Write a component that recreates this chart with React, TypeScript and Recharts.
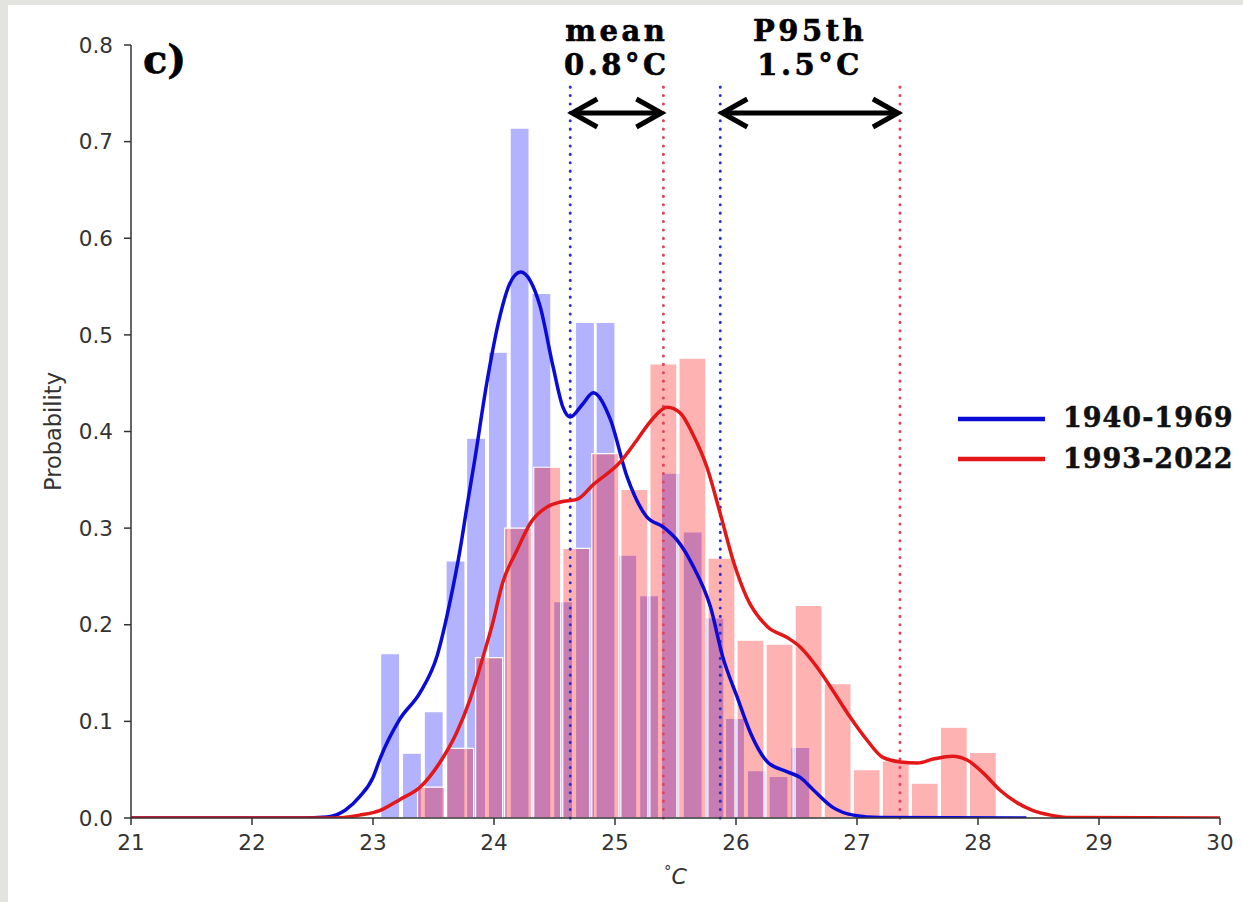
import React from 'react';
import { ComposedChart, Bar, Line, XAxis, YAxis, ReferenceLine, Legend } from 'recharts';

// Histogram bins (bin centres in °C, probability density)
const blueBinCenters = [23.14, 23.32, 23.5, 23.68, 23.85, 24.03, 24.21, 24.39, 24.57, 24.75, 24.92, 25.1, 25.28, 25.46, 25.64, 25.82, 25.99, 26.17, 26.35, 26.53];
const blueBinValues = [0.17, 0.067, 0.11, 0.266, 0.393, 0.482, 0.714, 0.543, 0.224, 0.513, 0.513, 0.272, 0.23, 0.357, 0.296, 0.207, 0.103, 0.049, 0.043, 0.073];
const redBinCenters = [23.48, 23.72, 23.96, 24.2, 24.44, 24.68, 24.92, 25.16, 25.4, 25.64, 25.88, 26.12, 26.36, 26.6, 26.84, 27.08, 27.32, 27.56, 27.8, 28.04];
const redBinValues = [0.032, 0.072, 0.166, 0.3, 0.363, 0.279, 0.377, 0.34, 0.47, 0.476, 0.269, 0.184, 0.18, 0.22, 0.139, 0.05, 0.059, 0.036, 0.094, 0.068];

// Kernel density curves
const blueKdeX = [21, 22.4, 22.62, 22.77, 22.89, 23.0, 23.06, 23.22, 23.39, 23.53, 23.64, 23.72, 23.78, 23.84, 23.94, 24.05, 24.13, 24.22, 24.3, 24.38, 24.49, 24.57, 24.63, 24.73, 24.82, 24.96, 25.1, 25.26, 25.4, 25.51, 25.64, 25.79, 25.89, 26.01, 26.12, 26.26, 26.42, 26.53, 26.64, 26.8, 26.97, 27.19, 28.4];
const blueKdeY = [0, 0, 0.001, 0.008, 0.022, 0.042, 0.062, 0.102, 0.13, 0.168, 0.226, 0.278, 0.325, 0.37, 0.45, 0.52, 0.553, 0.565, 0.556, 0.53, 0.466, 0.425, 0.415, 0.428, 0.44, 0.413, 0.353, 0.312, 0.301, 0.288, 0.262, 0.218, 0.167, 0.125, 0.088, 0.058, 0.048, 0.042, 0.029, 0.011, 0.003, 0.0005, 0];
const redKdeX = [21, 22.64, 22.89, 23.06, 23.22, 23.39, 23.55, 23.69, 23.8, 23.91, 23.99, 24.07, 24.19, 24.3, 24.44, 24.55, 24.69, 24.82, 25.04, 25.18, 25.31, 25.43, 25.54, 25.64, 25.76, 25.87, 25.98, 26.09, 26.26, 26.42, 26.53, 26.67, 26.8, 26.94, 27.08, 27.21, 27.36, 27.5, 27.63, 27.79, 27.91, 28.04, 28.18, 28.32, 28.45, 28.6, 28.76, 30];
const redKdeY = [0, 0, 0.003, 0.008, 0.019, 0.032, 0.057, 0.088, 0.122, 0.167, 0.202, 0.243, 0.277, 0.305, 0.322, 0.327, 0.33, 0.345, 0.368, 0.391, 0.413, 0.425, 0.419, 0.398, 0.363, 0.315, 0.265, 0.228, 0.198, 0.187, 0.177, 0.156, 0.132, 0.105, 0.081, 0.063, 0.058, 0.057, 0.061, 0.064, 0.06, 0.047, 0.029, 0.016, 0.008, 0.003, 0.0005, 0];

// Series names, mean / 95th percentile markers and annotations
const seriesNames = ['1940-1969', '1993-2022'];
const meanValues = [24.63, 25.4];
const p95Values = [25.87, 27.355];
const annotationTitles = ['mean', 'P95th'];
const annotationValues = ['0.8°C', '1.5°C'];
const markerTop = 0.761;
const arrowLevel = 0.7296;

const xTicks = [21, 22, 23, 24, 25, 26, 27, 28, 29, 30];
const yTicks = [0, 0.1, 0.2, 0.3, 0.4, 0.5, 0.6, 0.7, 0.8];
const xDomain: [number, number] = [21, 30];
const yDomain: [number, number] = [0, 0.8];

const blueBars = blueBinCenters.map((x, i) => ({ x, blue: blueBinValues[i] }));
const redBars = redBinCenters.map((x, i) => ({ x, red: redBinValues[i] }));
const blueKde = blueKdeX.map((x, i) => ({ x, kde: blueKdeY[i] }));
const redKde = redKdeX.map((x, i) => ({ x, kde: redKdeY[i] }));

const W = 1243;
const H = 902;
const PLOT = { top: 45, right: 23, bottom: 84, left: 131 };
const BLUE = '#0b0bd6';
const RED = '#e31717';
const SLAB = '"DejaVu Serif", serif';
const SANS = '"DejaVu Sans", sans-serif';

const makeArrow = (title: string, value: string) => (props: any) => {
  const { x1, y1, x2 } = props;
  const L = 27;
  const AH = 14;
  const cx = (x1 + x2) / 2;
  return (
    <g>
      <line x1={x1 + 2} y1={y1} x2={x2 - 2} y2={y1} stroke="#000" strokeWidth={5} />
      <polyline points={`${x1 + L},${y1 - AH} ${x1 + 2},${y1} ${x1 + L},${y1 + AH}`} fill="none" stroke="#000" strokeWidth={5} strokeLinejoin="miter" />
      <polyline points={`${x2 - L},${y1 - AH} ${x2 - 2},${y1} ${x2 - L},${y1 + AH}`} fill="none" stroke="#000" strokeWidth={5} strokeLinejoin="miter" />
      <text x={cx} y={y1 - 72} textAnchor="middle" fontFamily={SLAB} fontWeight="bold" fontSize={29} letterSpacing={3.5} stroke="#000" strokeWidth={0.6} fill="#000">{title}</text>
      <text x={cx} y={y1 - 38} textAnchor="middle" fontFamily={SLAB} fontWeight="bold" fontSize={29} letterSpacing={3.5} stroke="#000" strokeWidth={0.6} fill="#000">{value}</text>
    </g>
  );
};

const renderLegend = (props: any) => {
  const items = (props.payload || []).filter((p: any) => p.type === 'line');
  return (
    <svg width={290} height={84} style={{ overflow: 'visible', display: 'block' }}>
      {items.map((it: any, i: number) => (
        <g key={i}>
          <line x1={8} x2={95} y1={24 + i * 40} y2={24 + i * 40} stroke={it.color} strokeWidth={4.5} />
          <text x={113} y={32 + i * 41} fontFamily={SLAB} fontWeight="bold" fontSize={27} letterSpacing={1} stroke="#111" strokeWidth={0.5} fill="#111">{it.value}</text>
        </g>
      ))}
    </svg>
  );
};

const xLabel = (props: any) => {
  const { viewBox } = props;
  const cx = viewBox.x + viewBox.width / 2;
  return (
    <text x={cx} y={viewBox.y + 66} textAnchor="middle" fontFamily={SANS} fontSize={22} fill="#333">
      <tspan fontSize={15} dy={-7}>°</tspan>
      <tspan fontStyle="italic" dy={7}>C</tspan>
    </text>
  );
};

export default function App() {
  return (
    <div style={{ position: 'absolute', left: 0, top: 0, width: W, height: H, overflow: 'hidden', background: '#e3e3df' }}>
      <div style={{ position: 'absolute', left: 8, top: 5, width: 1235, height: 897, background: '#fff' }} />
      {/* Layer 1: 1940-1969 histogram */}
      <div style={{ position: 'absolute', left: 0, top: 0 }}>
        <ComposedChart width={W} height={H} data={blueBars} margin={PLOT}>
          <XAxis dataKey="x" type="number" domain={xDomain} allowDataOverflow hide />
          <YAxis domain={yDomain} allowDataOverflow hide />
          <Bar dataKey="blue" barSize={19} fill="#0000ff" fillOpacity={0.3} stroke="#fff" strokeWidth={1.2} isAnimationActive={false} />
        </ComposedChart>
      </div>
      {/* Layer 2: 1993-2022 histogram, KDE curves, axes and annotations */}
      <div style={{ position: 'absolute', left: 0, top: 0 }}>
        <ComposedChart width={W} height={H} data={redBars} margin={{ top: 45, right: 23, bottom: 24, left: 61 }}>
          <XAxis
            xAxisId="main"
            dataKey="x"
            type="number"
            domain={xDomain}
            ticks={xTicks}
            allowDataOverflow
            height={60}
            tickSize={7}
            tickMargin={10}
            stroke="#333"
            strokeWidth={1.5}
            tick={{ fontSize: 21.5, fill: '#333', fontFamily: SANS }}
            label={xLabel}
          />
          <XAxis xAxisId="curves" orientation="top" dataKey="x" type="number" domain={xDomain} allowDataOverflow hide />
          <YAxis
            domain={yDomain}
            ticks={yTicks}
            allowDataOverflow
            width={70}
            tickSize={7}
            tickMargin={11}
            stroke="#333"
            strokeWidth={1.5}
            tickFormatter={(v: number) => v.toFixed(1)}
            tick={{ fontSize: 21.5, fill: '#333', fontFamily: SANS }}
            label={{ value: 'Probability', angle: -90, position: 'insideLeft', offset: -8, style: { textAnchor: 'middle', fontSize: 22.5, fill: '#333', fontFamily: SANS } }}
          />
          <Bar xAxisId="main" dataKey="red" barSize={27} fill="#ff0000" fillOpacity={0.3} stroke="#fff" strokeWidth={1.2} legendType="none" isAnimationActive={false} />
          {[meanValues[0], p95Values[0]].map((v, i) => (
            <ReferenceLine key={'b' + i} xAxisId="main" segment={[{ x: v, y: 0 }, { x: v, y: markerTop }]} stroke="#3030c8" strokeWidth={3} strokeDasharray="0.1 8.3" strokeLinecap="round" />
          ))}
          {[meanValues[1], p95Values[1]].map((v, i) => (
            <ReferenceLine key={'r' + i} xAxisId="main" segment={[{ x: v, y: 0 }, { x: v, y: markerTop }]} stroke="#e04460" strokeWidth={3} strokeDasharray="0.1 8.3" strokeLinecap="round" />
          ))}
          <Line xAxisId="curves" data={blueKde} dataKey="kde" name={seriesNames[0]} type="monotone" stroke={BLUE} strokeWidth={3.5} dot={false} activeDot={false} isAnimationActive={false} />
          <Line xAxisId="curves" data={redKde} dataKey="kde" name={seriesNames[1]} type="monotone" stroke={RED} strokeWidth={3.5} dot={false} activeDot={false} isAnimationActive={false} />
          <ReferenceLine xAxisId="main" segment={[{ x: meanValues[0], y: arrowLevel }, { x: meanValues[1], y: arrowLevel }]} shape={makeArrow(annotationTitles[0], annotationValues[0])} />
          <ReferenceLine xAxisId="main" segment={[{ x: p95Values[0], y: arrowLevel }, { x: p95Values[1], y: arrowLevel }]} shape={makeArrow(annotationTitles[1], annotationValues[1])} />
          <Legend layout="vertical" align="center" verticalAlign="middle" width={290} content={renderLegend} wrapperStyle={{ left: 950, top: 395, width: 290 }} />
        </ComposedChart>
      </div>
      <svg style={{ position: 'absolute', left: 0, top: 0 }} width={300} height={100}>
        <text x={143} y={73} fontFamily={SLAB} fontWeight="bold" fontSize={40} stroke="#000" strokeWidth={0.6} fill="#000">c)</text>
      </svg>
    </div>
  );
}
